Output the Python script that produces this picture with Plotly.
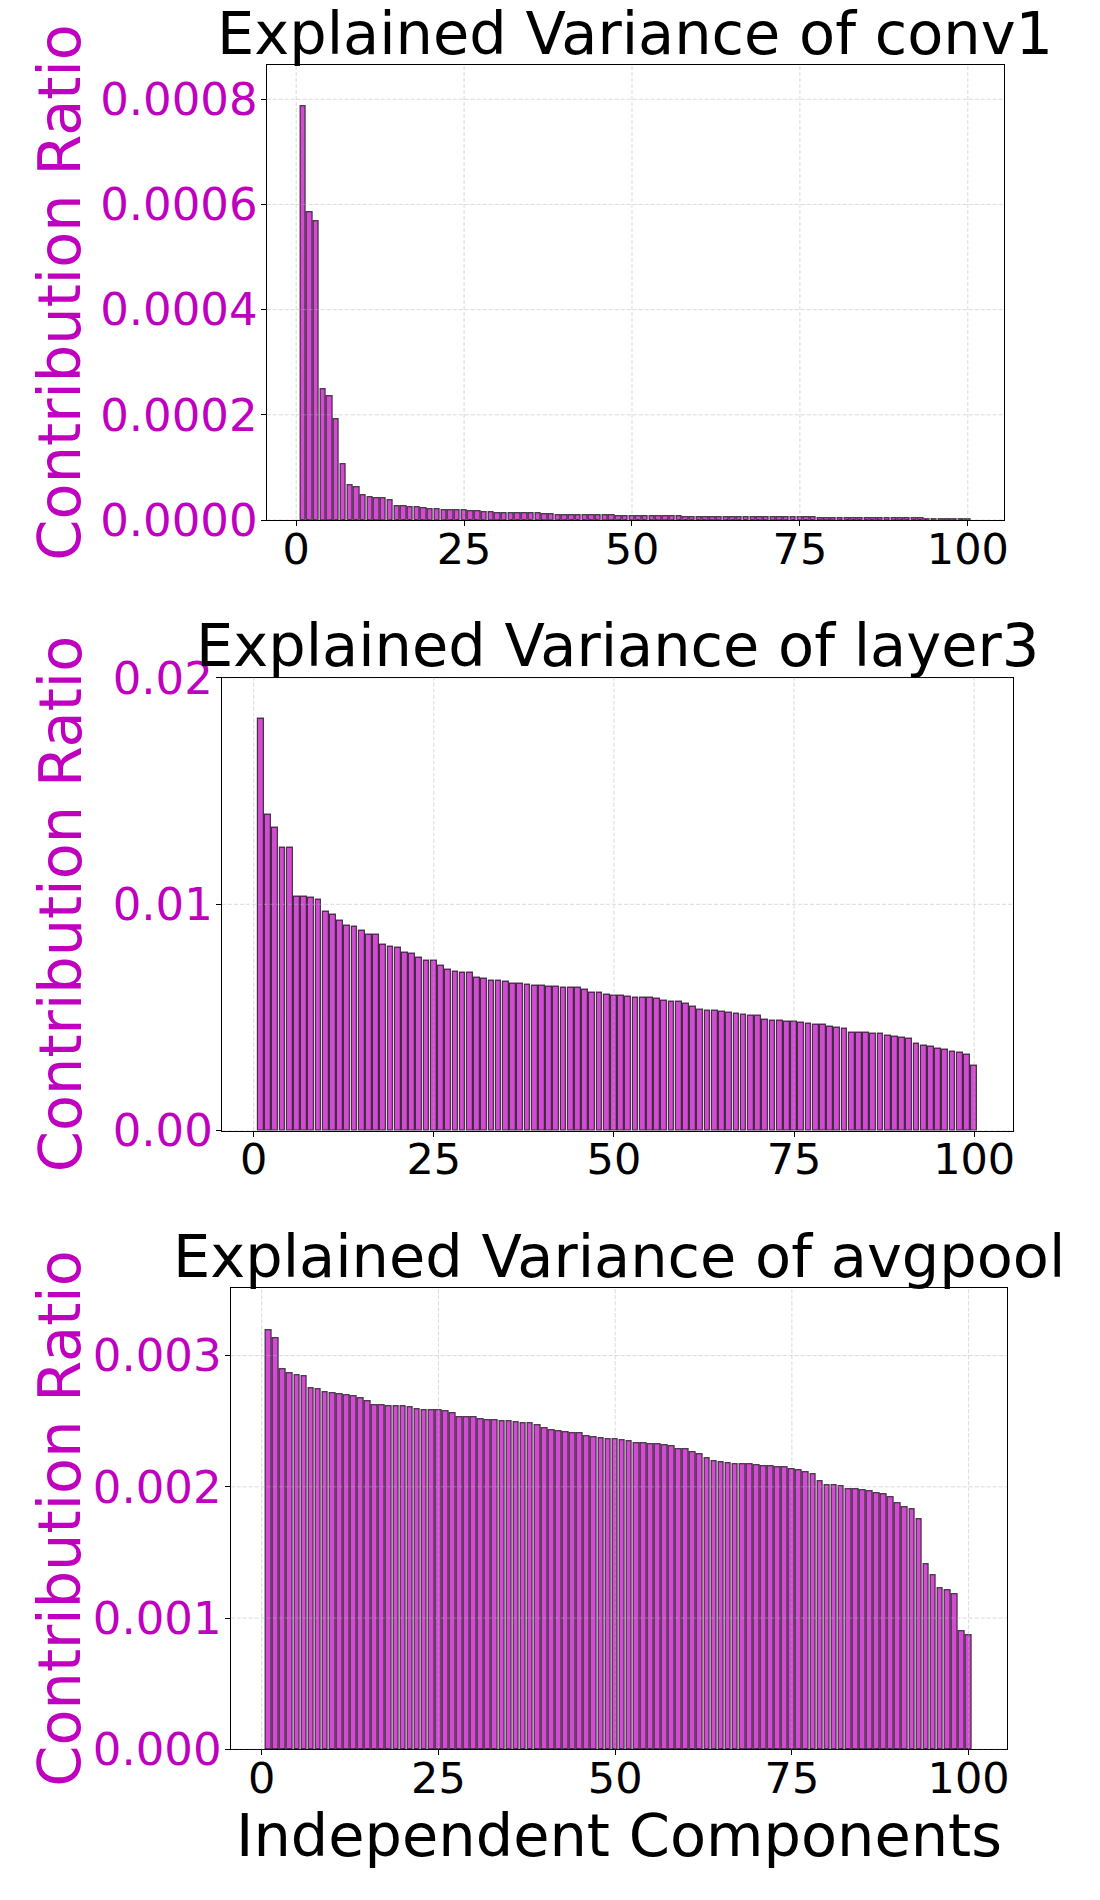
import plotly.graph_objects as go

# ---------------- data ----------------
components = list(range(1, 101))
x_tick_values = [0, 25, 50, 75, 100]

conv1_ratio = [
    7.86e-4, 5.85e-4, 5.68e-4, 2.48e-4, 2.35e-4, 1.91e-4, 1.06e-4, 6.6e-5, 6.2e-5, 4.75e-5,
    4.37e-5, 4.13e-5, 4.10e-5, 3.74e-5, 2.67e-5, 2.64e-5, 2.45e-5, 2.41e-5, 2.22e-5, 2.10e-5,
    2.08e-5, 1.91e-5, 1.90e-5, 1.88e-5, 1.78e-5, 1.75e-5, 1.58e-5, 1.40e-5, 1.38e-5, 1.21e-5,
    1.20e-5, 1.20e-5, 1.19e-5, 1.19e-5, 1.18e-5, 1.18e-5, 1.17e-5, 1.17e-5, 0.97e-5, 0.96e-5,
    0.96e-5, 0.95e-5, 0.95e-5, 0.95e-5, 0.94e-5, 0.94e-5, 0.93e-5, 0.78e-5, 0.77e-5, 0.77e-5,
    0.77e-5, 0.76e-5, 0.76e-5, 0.76e-5, 0.75e-5, 0.75e-5, 0.75e-5, 0.58e-5, 0.58e-5, 0.57e-5,
    0.57e-5, 0.57e-5, 0.56e-5, 0.56e-5, 0.56e-5, 0.55e-5, 0.55e-5, 0.55e-5, 0.54e-5, 0.44e-5,
    0.44e-5, 0.43e-5, 0.43e-5, 0.43e-5, 0.42e-5, 0.42e-5, 0.42e-5, 0.41e-5, 0.41e-5, 0.41e-5,
    0.40e-5, 0.40e-5, 0.26e-5, 0.26e-5, 0.25e-5, 0.25e-5, 0.25e-5, 0.24e-5, 0.24e-5, 0.24e-5,
    0.23e-5, 0.23e-5, 0.23e-5, 0.22e-5, 0.22e-5, 0.22e-5, 0.21e-5, 0.21e-5, 0.12e-5, 0.06e-5,
]

layer3_ratio = [
    0.01819, 0.01395, 0.01340, 0.01252, 0.01250, 0.01034, 0.01033, 0.01029, 0.01022, 0.00966,
    0.00953, 0.00929, 0.00906, 0.00901, 0.00884, 0.00867, 0.00865, 0.00823, 0.00811, 0.00807,
    0.00788, 0.00784, 0.00766, 0.00752, 0.00750, 0.00729, 0.00710, 0.00701, 0.00698, 0.00696,
    0.00677, 0.00673, 0.00664, 0.00662, 0.00658, 0.00651, 0.00648, 0.00646, 0.00642, 0.00640,
    0.00637, 0.00635, 0.00633, 0.00632, 0.00631, 0.00622, 0.00611, 0.00609, 0.00600, 0.00596,
    0.00595, 0.00592, 0.00589, 0.00588, 0.00587, 0.00582, 0.00574, 0.00572, 0.00570, 0.00560,
    0.00546, 0.00533, 0.00529, 0.00528, 0.00527, 0.00523, 0.00518, 0.00511, 0.00510, 0.00509,
    0.00492, 0.00487, 0.00484, 0.00483, 0.00482, 0.00479, 0.00471, 0.00470, 0.00469, 0.00461,
    0.00455, 0.00451, 0.00434, 0.00433, 0.00432, 0.00429, 0.00428, 0.00420, 0.00415, 0.00411,
    0.00405, 0.00386, 0.00377, 0.00373, 0.00364, 0.00359, 0.00347, 0.00345, 0.00337, 0.00287,
]

avgpool_ratio = [
    0.003193, 0.003132, 0.002893, 0.002863, 0.002853, 0.002845, 0.002754, 0.002746, 0.002721, 0.002711,
    0.002706, 0.002698, 0.002690, 0.002675, 0.002650, 0.002623, 0.002621, 0.002615, 0.002614, 0.002613,
    0.002607, 0.002591, 0.002585, 0.002584, 0.002583, 0.002576, 0.002558, 0.002531, 0.002530, 0.002529,
    0.002513, 0.002506, 0.002505, 0.002500, 0.002499, 0.002490, 0.002483, 0.002481, 0.002467, 0.002449,
    0.002429, 0.002420, 0.002418, 0.002406, 0.002405, 0.002386, 0.002378, 0.002371, 0.002361, 0.002360,
    0.002353, 0.002343, 0.002331, 0.002329, 0.002322, 0.002321, 0.002315, 0.002305, 0.002289, 0.002288,
    0.002266, 0.002251, 0.002218, 0.002198, 0.002190, 0.002180, 0.002174, 0.002173, 0.002172, 0.002162,
    0.002158, 0.002157, 0.002150, 0.002149, 0.002137, 0.002122, 0.002112, 0.002096, 0.002043, 0.002014,
    0.002012, 0.002000, 0.001982, 0.001981, 0.001975, 0.001967, 0.001949, 0.001942, 0.001919, 0.001873,
    0.001840, 0.001827, 0.001756, 0.001409, 0.001325, 0.001223, 0.001208, 0.001180, 0.000901, 0.000868,
]

layer_names = ["conv1", "layer3", "avgpool"]
y_tick_values = [
    [0.0, 0.0002, 0.0004, 0.0006, 0.0008],
    [0.0, 0.01, 0.02],
    [0.0, 0.001, 0.002, 0.003],
]
y_tick_formats = [".4f", ".2f", ".3f"]
series = [conv1_ratio, layer3_ratio, avgpool_ratio]

# ---------------- layout constants ----------------
W, H = 1100, 1900
FONT = "DejaVu Sans"
MAGENTA = "#BF00BF"
BAR_FILL = "rgba(191,0,191,0.7)"
BAR_EDGE = "rgba(0,0,0,0.7)"
GRID = "rgba(176,176,176,0.6)"
BIG = 59

# panel boxes in pixels (left, right, top, bottom)
panels = [
    (266.7, 1004.0, 65.3, 520.0),
    (222.0, 1013.0, 677.7, 1130.7),
    (230.7, 1006.7, 1288.3, 1749.3),
]

fig = go.Figure()
annotations = []
shapes = []

for i, (name, vals, ytv, yfmt, box) in enumerate(
        zip(layer_names, series, y_tick_values, y_tick_formats, panels)):
    left, right, top, bottom = box
    idx = "" if i == 0 else str(i + 1)
    xa, ya = "x" + idx, "y" + idx

    fig.add_trace(go.Bar(
        x=components, y=vals, width=0.8,
        marker=dict(color=BAR_FILL, line=dict(color=BAR_EDGE, width=1.2)),
        xaxis=xa, yaxis=ya, showlegend=False, hoverinfo="x+y",
    ))

    xdom = [left / W, right / W]
    ydom = [1 - bottom / H, 1 - top / H]
    ymax = max(vals) * 1.1

    axis_common = dict(
        showline=True, linecolor="black", linewidth=1.2, mirror=True,
        ticks="outside", ticklen=5, tickwidth=1.2, tickcolor="black",
        showgrid=False, zeroline=False, automargin=False,
    )
    fig.layout["xaxis" + idx] = dict(
        domain=xdom, anchor=ya, range=[-4.39, 105.39],
        tickvals=x_tick_values, tickfont=dict(family=FONT, size=43, color="black"),
        ticklabelstandoff=-14,
        **axis_common,
    )
    fig.layout["yaxis" + idx] = dict(
        domain=ydom, anchor=xa, range=[0, ymax],
        tickvals=ytv, tickformat=yfmt,
        tickfont=dict(family=FONT, size=45, color=MAGENTA),
        ticklabelstandoff=-6,
        **axis_common,
    )

    # dashed grid drawn above the bars (as in the original)
    for xv in x_tick_values:
        shapes.append(dict(type="line", xref=xa, yref=ya + " domain",
                           x0=xv, x1=xv, y0=0, y1=1, layer="above",
                           line=dict(color=GRID, width=0.8, dash="4px,2px")))
    for yv in ytv:
        shapes.append(dict(type="line", xref=xa + " domain", yref=ya,
                           x0=0, x1=1, y0=yv, y1=yv, layer="above",
                           line=dict(color=GRID, width=0.8, dash="4px,2px")))

    # subplot title
    annotations.append(dict(
        text=f"Explained Variance of {name}", xref="paper", yref="paper",
        x=(left + right) / 2 / W, y=1 - (top - 32.0) / H,
        xanchor="center", yanchor="middle", showarrow=False,
        font=dict(family=FONT, size=BIG, color="black"),
    ))
    # y-axis label
    annotations.append(dict(
        text="Contribution Ratio", xref="paper", yref="paper",
        x=60 / W, y=1 - (top + bottom) / 2 / H, textangle=-90,
        xanchor="center", yanchor="middle", showarrow=False,
        font=dict(family=FONT, size=BIG, color=MAGENTA),
    ))

# x-axis label for bottom panel
left, right, top, bottom = panels[2]
annotations.append(dict(
    text="Independent Components", xref="paper", yref="paper",
    x=(left + right) / 2 / W, y=1 - 1835 / H,
    xanchor="center", yanchor="middle", showarrow=False,
    font=dict(family=FONT, size=BIG, color="black"),
))

fig.update_layout(
    width=W, height=H,
    margin=dict(l=0, r=0, t=0, b=0, pad=0, autoexpand=False),
    paper_bgcolor="white", plot_bgcolor="white",
    bargap=0, showlegend=False,
    annotations=annotations, shapes=shapes,
    font=dict(family=FONT),
)

fig.write_html("out.html")
